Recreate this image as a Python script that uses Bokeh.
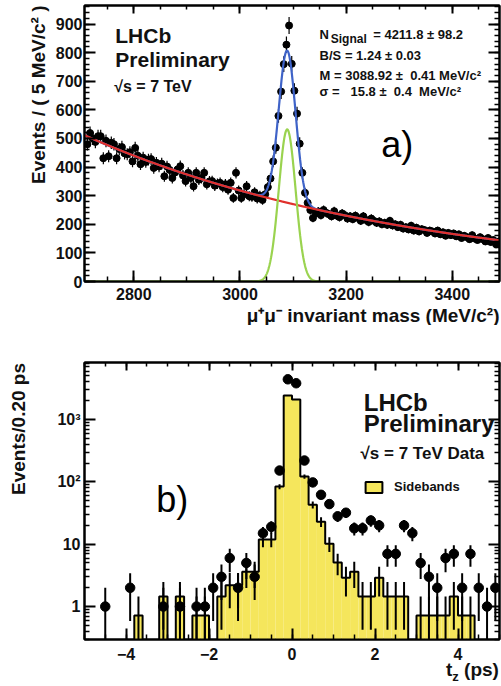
import numpy as np
from bokeh.plotting import figure
from bokeh.layouts import column
from bokeh.models import (ColumnDataSource, Label, Title, LinearAxis, LogAxis, FixedTicker, Div,
                          SingleIntervalTicker, Range1d, Legend, LegendItem, CustomJSTickFormatter)
from bokeh.embed import file_html
from bokeh.resources import INLINE

# ---------------- panel a) : dimuon invariant mass ----------------
mass_first_center = 2712.5
mass_bin_width = 5.0
mass_counts = [
    480, 519, 500, 488, 508, 508, 431, 492, 438, 485,
    480, 431, 463, 470, 448, 445, 452, 420, 467, 440,
    410, 433, 418, 426, 428, 397, 415, 402, 412, 368,
    402, 390, 362, 381, 392, 403, 371, 351, 380, 362,
    333, 380, 356, 362, 380, 340, 350, 351, 335, 342,
    345, 330, 340, 321, 345, 292, 380, 318, 292, 305,
    333, 298, 296, 312, 290, 300, 285, 305, 330, 360,
    420, 468, 579, 664, 760, 828, 895, 761, 667, 587,
    482, 380, 310, 275, 250,
    222, 238, 245, 232, 250, 240, 235, 228, 246, 230, 225, 238, 232, 220, 228,
    218, 230, 222, 212, 228, 215, 208, 220, 212, 205,
    210, 200, 205, 198, 212, 196, 200, 190, 198, 185,
    190, 182, 195, 178, 188, 175, 183, 180, 170, 178,
    175, 168, 178, 165, 172, 160, 170, 162, 168, 158,
    165, 152, 160, 155, 148, 162, 150, 145, 155, 148,
    140, 152, 138, 145, 130, 140,
]
# fit parameters (from the plot's text box and the drawn background)
n_signal = 4211.8
mass_mean = 3088.92
mass_sigma = 15.8
bkg_norm = 509.0       # events/5 MeV at 2710 MeV
bkg_ref_mass = 2710.0
bkg_slope = -0.00162   # per MeV

# ---------------- panel b) : pseudo proper time ----------------
tz_low, tz_high, tz_bin = -5.0, 5.0, 0.2
tz_data = [0, 0, 1, 0, 0, 2, 0, 0, 0, 1,
           0, 1, 0, 1, 1, 2, 3, 6, 2, 5,
           3, 15, 19, 152, 4420, 3820, 220, 98, 62, 44,
           28, 32, 18, 18, 24, 20, 7, 7, 20, 15,
           5, 3, 2, 6, 7, 2, 7, 2, 1, 2]
tz_sidebands = [0, 0, 0, 0, 0, 0, 0.72, 0, 0, 1.45,
                0, 1.45, 0, 0.72, 0.72, 0, 1.45, 2.2, 2.2, 3.6,
                3.6, 11.9, 11.9, 84, 2440, 2100, 122, 43, 23, 10.2,
                5.1, 2.9, 3.6, 1.45, 1.45, 2.9, 1.45, 1.45, 1.45, 0,
                0.72, 0.72, 0.72, 0.72, 1.45, 0.72, 0.72, 0, 0, 0]
sideband_weight = 0.725

FONT = "Liberation Sans"
TXT = "#111111"
YELLOW = "#f5e65c"
NOLABEL = CustomJSTickFormatter(code="return '';")


def style_axis(ax, label_size="16px", show_labels=True, standoff=3):
    ax.axis_line_width = 2
    ax.axis_line_color = "black"
    ax.major_tick_in = 11
    ax.major_tick_out = 0
    ax.minor_tick_in = 5
    ax.minor_tick_out = 0
    ax.major_tick_line_width = 2
    ax.minor_tick_line_width = 1.5
    ax.major_tick_line_color = "black"
    ax.minor_tick_line_color = "black"
    ax.major_label_text_font = FONT
    ax.major_label_text_font_style = "bold"
    ax.major_label_text_color = TXT
    if show_labels:
        ax.major_label_text_font_size = label_size
        ax.major_label_standoff = standoff
    else:
        ax.formatter = NOLABEL
        ax.major_label_text_font_size = "1px"
        ax.major_label_standoff = 0


def lab(p, x, y, text, size, bold=True, font=FONT, color=TXT):
    p.add_layout(Label(x=x, y=y, text=text, text_font=font, text_font_size=size,
                       text_font_style="bold" if bold else "normal", text_color=color,
                       text_baseline="alphabetic", text_align="left"))


# ======================= figure a =======================
p1 = figure(width=501, height=325, x_range=Range1d(2707, 3489), y_range=Range1d(0, 965),
            output_backend="svg", toolbar_location=None,
            min_border_left=84, min_border_right=2, min_border_top=5, min_border_bottom=40)
p1.grid.visible = False
p1.outline_line_color = "black"
p1.outline_line_width = 2
p1.background_fill_color = "white"
p1.border_fill_color = "white"

p1.xaxis.ticker = SingleIntervalTicker(interval=200, num_minor_ticks=4)
p1.yaxis.ticker = SingleIntervalTicker(interval=100, num_minor_ticks=5)
style_axis(p1.xaxis[0], standoff=6)
style_axis(p1.yaxis[0], standoff=2)
ax_top = LinearAxis(ticker=SingleIntervalTicker(interval=200, num_minor_ticks=4))
style_axis(ax_top, show_labels=False)
ax_top.major_tick_in = 8
ax_top.minor_tick_in = 4
p1.add_layout(ax_top, "above")
ax_right = LinearAxis(ticker=SingleIntervalTicker(interval=100, num_minor_ticks=5))
style_axis(ax_right, show_labels=False)
p1.add_layout(ax_right, "right")

mass_centers = mass_first_center + mass_bin_width * np.arange(len(mass_counts))
mc = np.array(mass_counts, dtype=float)
src_a = ColumnDataSource(dict(x=mass_centers, y=mc, lo=mc - np.sqrt(mc), hi=mc + np.sqrt(mc)))
p1.segment(x0="x", y0="lo", x1="x", y1="hi", source=src_a, line_color="black", line_width=1.2)
p1.scatter(x="x", y="y", source=src_a, size=7, color="black")

mfine = np.linspace(2707, 3489, 1200)
bkg_curve = bkg_norm * np.exp(bkg_slope * (mfine - bkg_ref_mass))
sig_curve = n_signal * mass_bin_width / (np.sqrt(2 * np.pi) * mass_sigma) * \
    np.exp(-0.5 * ((mfine - mass_mean) / mass_sigma) ** 2)
p1.line(mfine, bkg_curve + sig_curve, line_color="#3f63c8", line_width=2.2)
p1.line(mfine, bkg_curve, line_color="#e0302c", line_width=2.2)
p1.line(mfine, sig_curve, line_color="#9ad34f", line_width=2.2)

ylab1 = Title(text="Events / ( 5 MeV/c² )", align="right", text_font=FONT, text_font_style="bold",
              text_font_size="19px", text_color=TXT, standoff=8)
p1.add_layout(ylab1, "left")
xlab1 = Title(text="μ⁺μ⁻ invariant mass (MeV/c²)", align="right", text_font=FONT, text_font_style="bold",
              text_font_size="19px", text_color=TXT, standoff=0)
p1.add_layout(xlab1, "below")

lab(p1, 2765, 860, "LHCb", "21px")
lab(p1, 2765, 776, "Preliminary", "21px")
lab(p1, 2763, 681, "√s = 7 TeV", "16px")
lab(p1, 3150, 862, "N", "13px")
lab(p1, 3171, 849, "Signal", "12px")
lab(p1, 3251, 862, "= 4211.8 ± 98.2", "13px")
lab(p1, 3150, 790, "B/S = 1.24 ± 0.03", "13px")
lab(p1, 3150, 720, "M = 3088.92 ±\u00a0\u00a00.41 MeV/c²", "13px")
lab(p1, 3150, 663, "σ =\u00a0\u00a0\u00a015.8 ±\u00a0\u00a00.4\u00a0\u00a0MeV/c²", "13px")
lab(p1, 3266, 480, "a)", "36px", bold=False, color="black")

# ======================= figure b =======================
p2 = figure(width=501, height=361, x_range=Range1d(-5, 5), y_range=Range1d(0.296, 8220),
            y_axis_type="log", output_backend="svg", toolbar_location=None,
            min_border_left=83, min_border_right=2, min_border_top=37, min_border_bottom=47)
p2.grid.visible = False
p2.outline_line_color = "black"
p2.outline_line_width = 2
p2.background_fill_color = "white"
p2.border_fill_color = "white"

major_log = [1, 10, 100, 1000]
minor_log = [m * 10.0 ** e for e in range(-1, 4) for m in range(2, 10)]
p2.xaxis.ticker = SingleIntervalTicker(interval=2, num_minor_ticks=4)
p2.yaxis.ticker = FixedTicker(ticks=major_log, minor_ticks=minor_log)
p2.yaxis.major_label_overrides = {1: "1", 10: "10", 100: "10²", 1000: "10³"}
style_axis(p2.xaxis[0], standoff=8)
style_axis(p2.yaxis[0], standoff=4)
ax2_top = LinearAxis(ticker=SingleIntervalTicker(interval=2, num_minor_ticks=4))
style_axis(ax2_top, show_labels=False)
ax2_top.major_tick_in = 8
ax2_top.minor_tick_in = 4
p2.add_layout(ax2_top, "above")
ax2_right = LogAxis(ticker=FixedTicker(ticks=major_log, minor_ticks=minor_log))
style_axis(ax2_right, show_labels=False)
p2.add_layout(ax2_right, "right")

nb = len(tz_data)
edges = tz_low + tz_bin * np.arange(nb + 1)
centers = 0.5 * (edges[:-1] + edges[1:])
sb = np.array(tz_sidebands, dtype=float)
floor = 0.01
nz = sb > 0
src_h = ColumnDataSource(dict(l=edges[:-1][nz], r=edges[1:][nz], t=sb[nz]))
hist = p2.quad(left="l", right="r", top="t", bottom=floor, source=src_h,
               fill_color=YELLOW, line_color=None)
# outline of the sideband histogram
sx, sy = [], []
for i in range(nb):
    v = sb[i] if sb[i] > 0 else floor
    sx += [edges[i], edges[i + 1]]
    sy += [v, v]
p2.line([edges[0]] + sx + [edges[-1]], [floor] + sy + [floor], line_color="black", line_width=2)
# sideband error bars
sb_err = np.sqrt(sb * sideband_weight)
src_he = ColumnDataSource(dict(x=centers[nz], lo=np.maximum(sb[nz] - sb_err[nz], floor),
                               hi=sb[nz] + sb_err[nz]))
p2.segment(x0="x", y0="lo", x1="x", y1="hi", source=src_he, line_color="black", line_width=2)

# data points
td = np.array(tz_data, dtype=float)
pos = td > 0
src_d = ColumnDataSource(dict(x=centers[pos], y=td[pos],
                              lo=np.maximum(td[pos] - np.sqrt(td[pos]), floor),
                              hi=td[pos] + np.sqrt(td[pos])))
p2.segment(x0="x", y0="lo", x1="x", y1="hi", source=src_d, line_color="black", line_width=2)
p2.scatter(x="x", y="y", source=src_d, size=9.5, color="black")

lab(p2, 1.73, 1449 * 1.3, "LHCb", "24px")
lab(p2, 1.73, 665 * 1.3, "Preliminary", "24px")
lab(p2, 1.65, 218 * 1.3, "√s = 7 TeV Data", "17px")
lab(p2, -3.27, 52, "b)", "36px", bold=False, color="black")

# legend entry for the sideband histogram
legend_src = ColumnDataSource(dict(l=[edges[0]], r=[edges[0]], t=[floor], b=[floor]))
legend_box = p2.quad(left="l", right="r", top="t", bottom="b", source=legend_src,
                     fill_color=YELLOW, line_color="black", line_width=2)
leg = Legend(items=[LegendItem(label="Sidebands", renderers=[legend_box])], location=(279, 145),
             padding=0, margin=0, glyph_width=21, glyph_height=14, label_standoff=10,
             label_text_font=FONT, label_text_font_style="bold", label_text_font_size="13px",
             label_text_color=TXT, border_line_alpha=0, background_fill_alpha=0)
p2.add_layout(leg)

layout = column(p1, p2, spacing=0, styles={"position": "absolute", "left": "0px", "top": "0px"})

# y-axis title of panel b (top-aligned like the original), rotated text
ylab2 = Div(text="Events/0.20 ps", width=140, height=22, margin=0,
            styles={"position": "absolute", "left": "8px", "top": "495px",
                    "transform": "rotate(-90deg)", "transform-origin": "0 0",
                    "font-family": FONT, "font-weight": "bold", "font-size": "19px",
                    "color": TXT, "line-height": "22px", "white-space": "nowrap"})

# x-axis title of panel b (with subscript), placed under the right end of the axis
tz_title = Div(text='t<span style="font-size:13px;position:relative;top:5px">z</span>&nbsp;(ps)',
               width=60, height=24, margin=0,
               styles={"position": "absolute", "left": "446px", "top": "659px",
                       "font-family": FONT, "font-weight": "bold", "font-size": "19px",
                       "color": TXT, "line-height": "22px", "white-space": "nowrap"})

open("out.html", "w").write(file_html([layout, ylab2, tz_title], INLINE))
